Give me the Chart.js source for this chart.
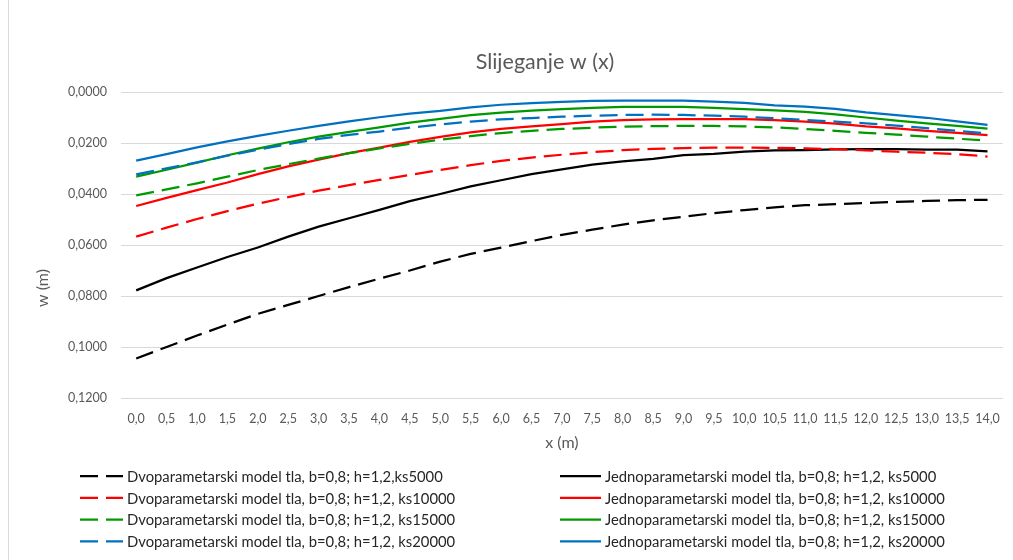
<!DOCTYPE html>
<html>
<head>
<meta charset="utf-8">
<script src="https://cdn.jsdelivr.net/npm/chart.js@4.4.1/dist/chart.umd.min.js"></script>
<style>
  html, body { margin: 0; padding: 0; background: #fff; }
  #wrap { position: relative; width: 1013px; height: 560px; }
  #frame { position: absolute; left: 8px; top: 0; width: 0; height: 560px; border-left: 1px solid #d9d9d9; }
</style>
</head>
<body>
<div id="wrap">
  <div id="frame"></div>
  <canvas id="chartW"></canvas>
</div>
<script>
const xLabels = ["0,0", "0,5", "1,0", "1,5", "2,0", "2,5", "3,0", "3,5", "4,0", "4,5",
  "5,0", "5,5", "6,0", "6,5", "7,0", "7,5", "8,0", "8,5", "9,0", "9,5",
  "10,0", "10,5", "11,0", "11,5", "12,0", "12,5", "13,0", "13,5", "14,0"];

// dvoparametarski model (dashed)
const dvo5000 = [0.1045, 0.1000, 0.0955, 0.0912, 0.0870, 0.0835, 0.0800, 0.0765, 0.0732, 0.0700,
  0.0665, 0.0635, 0.0610, 0.0585, 0.0560, 0.0540, 0.0520, 0.0503, 0.0489, 0.0475,
  0.0463, 0.0452, 0.0444, 0.0440, 0.0435, 0.0431, 0.0427, 0.0424, 0.0423];
const dvo10000 = [0.0567, 0.0532, 0.0498, 0.0467, 0.0438, 0.0412, 0.0387, 0.0365, 0.0345, 0.0325,
  0.0306, 0.0287, 0.0270, 0.0257, 0.0246, 0.0236, 0.0228, 0.0223, 0.0220, 0.0218,
  0.0218, 0.0219, 0.0221, 0.0224, 0.0229, 0.0234, 0.0238, 0.0244, 0.0253];
const dvo15000 = [0.0405, 0.0382, 0.0358, 0.0332, 0.0306, 0.0283, 0.0261, 0.0240, 0.0221, 0.0203,
  0.0187, 0.0173, 0.0161, 0.0152, 0.0145, 0.0140, 0.0136, 0.0134, 0.0133, 0.0133,
  0.0135, 0.0139, 0.0145, 0.0152, 0.0160, 0.0167, 0.0175, 0.0183, 0.0191];
const dvo20000 = [0.0323, 0.0299, 0.0276, 0.0250, 0.0226, 0.0204, 0.0184, 0.0168, 0.0155, 0.0140,
  0.0127, 0.0116, 0.0107, 0.0102, 0.0097, 0.0093, 0.0090, 0.0089, 0.0090, 0.0093,
  0.0097, 0.0103, 0.0110, 0.0116, 0.0123, 0.0132, 0.0142, 0.0152, 0.0162];

// jednoparametarski model (solid)
const jedno5000 = [0.0778, 0.0730, 0.0688, 0.0647, 0.0610, 0.0567, 0.0528, 0.0495, 0.0462, 0.0428,
  0.0400, 0.0370, 0.0346, 0.0322, 0.0303, 0.0285, 0.0272, 0.0262, 0.0248, 0.0243,
  0.0234, 0.0229, 0.0228, 0.0225, 0.0224, 0.0224, 0.0226, 0.0226, 0.0233];
const jedno10000 = [0.0447, 0.0415, 0.0385, 0.0355, 0.0322, 0.0292, 0.0265, 0.0240, 0.0218, 0.0196,
  0.0176, 0.0158, 0.0145, 0.0135, 0.0126, 0.0116, 0.0110, 0.0107, 0.0106, 0.0106,
  0.0106, 0.0110, 0.0116, 0.0124, 0.0135, 0.0143, 0.0152, 0.0160, 0.0169];
const jedno15000 = [0.0332, 0.0305, 0.0277, 0.0248, 0.0222, 0.0197, 0.0175, 0.0156, 0.0139, 0.0120,
  0.0105, 0.0091, 0.0081, 0.0073, 0.0067, 0.0062, 0.0058, 0.0058, 0.0058, 0.0062,
  0.0067, 0.0072, 0.0078, 0.0088, 0.0100, 0.0112, 0.0123, 0.0133, 0.0144];
const jedno20000 = [0.0269, 0.0244, 0.0217, 0.0194, 0.0172, 0.0152, 0.0133, 0.0115, 0.0099, 0.0085,
  0.0074, 0.0060, 0.0050, 0.0044, 0.0039, 0.0035, 0.0034, 0.0034, 0.0034, 0.0038,
  0.0043, 0.0052, 0.0057, 0.0066, 0.0080, 0.0091, 0.0101, 0.0115, 0.0129];

const seriesNames = [
  "Dvoparametarski model tla, b=0,8; h=1,2,ks5000",
  "Jednoparametarski model tla, b=0,8; h=1,2, ks5000",
  "Dvoparametarski model tla, b=0,8; h=1,2, ks10000",
  "Jednoparametarski model tla, b=0,8; h=1,2, ks10000",
  "Dvoparametarski model tla, b=0,8; h=1,2, ks15000",
  "Jednoparametarski model tla, b=0,8; h=1,2, ks15000",
  "Dvoparametarski model tla, b=0,8; h=1,2, ks20000",
  "Jednoparametarski model tla, b=0,8; h=1,2, ks20000"
];
const seriesData = [dvo5000, jedno5000, dvo10000, jedno10000, dvo15000, jedno15000, dvo20000, jedno20000];
const seriesColors = ["#000000", "#000000", "#ff0000", "#ff0000", "#009a00", "#009a00", "#0070c0", "#0070c0"];

const FONT = "Lato, 'Noto Sans', sans-serif";
const DASH = [18, 8];

const datasets = seriesNames.map((name, i) => ({
  label: name,
  data: seriesData[i],
  borderColor: seriesColors[i],
  backgroundColor: seriesColors[i],
  borderWidth: 2.25,
  borderDash: i % 2 === 0 ? DASH : [],
  pointRadius: 0,
  tension: 0,
  fill: false,
  order: seriesNames.length - i, // excel draws the last series on top
}));

// title, two-column legend like excel, rotated y title
const sidePlugin = {
  id: "sideBits",
  afterDraw(chart) {
    const ctx = chart.ctx;
    ctx.save();
    ctx.textBaseline = "middle";

    ctx.textAlign = "center";
    ctx.font = "21.5px " + FONT;
    ctx.fillStyle = "#595959";
    ctx.fillText("Slijeganje w (x)", 545, 62);

    ctx.textAlign = "left";
    ctx.font = "14.8px " + FONT;
    chart.data.datasets.forEach((ds, i) => {
      const col = i % 2;
      const row = Math.floor(i / 2);
      const y = 476 + row * 21.8;
      const x0 = col === 0 ? 80 : 560;
      ctx.strokeStyle = ds.borderColor;
      ctx.lineWidth = 2.25;
      ctx.beginPath();
      if (col === 0) {
        ctx.moveTo(x0, y); ctx.lineTo(x0 + 18, y);
        ctx.moveTo(x0 + 26, y); ctx.lineTo(x0 + 43, y);
      } else {
        ctx.moveTo(x0, y); ctx.lineTo(x0 + 41, y);
      }
      ctx.stroke();
      ctx.fillStyle = "#262626";
      ctx.fillText(ds.label, col === 0 ? 127 : 605, y + 1);
    });

    ctx.translate(43, 288);
    ctx.rotate(-Math.PI / 2);
    ctx.textAlign = "center";
    ctx.font = "16px " + FONT;
    ctx.fillStyle = "#595959";
    ctx.fillText("w (m)", 0, 0);
    ctx.restore();
  }
};

new Chart(document.getElementById("chartW"), {
  type: "line",
  data: { labels: xLabels, datasets },
  options: {
    responsive: true,
    maintainAspectRatio: false,
    animation: false,
    layout: { padding: { left: 61, right: 10, top: 92, bottom: 100 } },
    plugins: {
      legend: { display: false },
      tooltip: { enabled: false },
      title: { display: false },
    },
    scales: {
      x: {
        offset: true,
        grid: { display: false, drawTicks: false },
        border: { display: false },
        ticks: {
          color: "#595959",
          font: { family: FONT, size: 12.5 },
          maxRotation: 0,
          autoSkip: false,
          padding: 13,
        },
        title: {
          display: true,
          text: "x (m)",
          color: "#595959",
          font: { family: FONT, size: 16 },
          padding: { top: 0, bottom: 8 },
        },
        afterFit(scale) { scale.height = 62; },
      },
      y: {
        reverse: true,
        min: 0,
        max: 0.12,
        grid: { color: "#d9d9d9", lineWidth: 1, drawTicks: false },
        border: { display: false },
        ticks: {
          stepSize: 0.02,
          color: "#595959",
          font: { family: FONT, size: 12.5 },
          padding: 14,
          callback: (v) => Number(v).toFixed(4).replace(".", ","),
        },
        afterFit(scale) { scale.width = 60; },
      },
    },
  },
  plugins: [sidePlugin],
});
</script>
</body>
</html>
